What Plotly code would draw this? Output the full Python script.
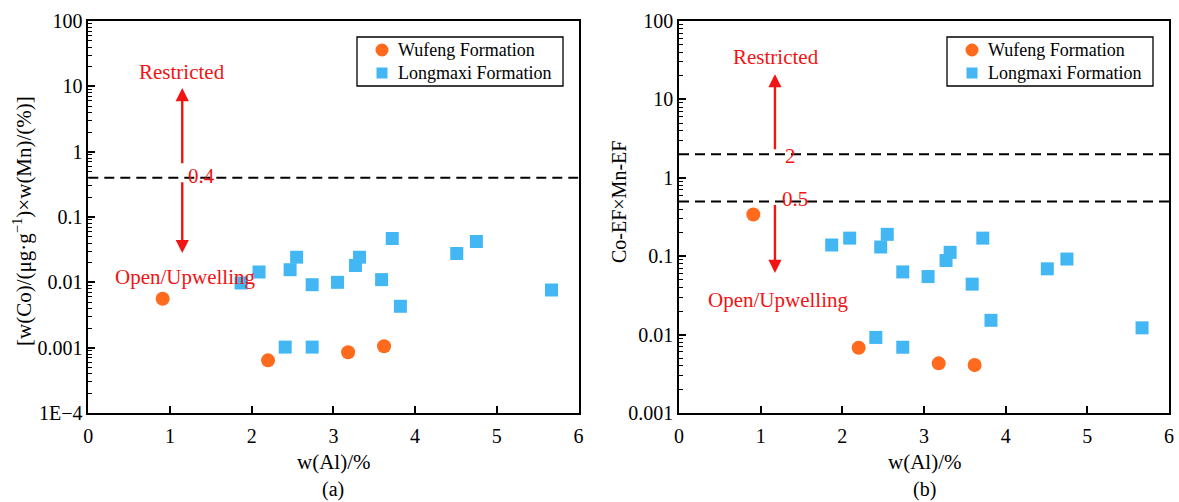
import math
import plotly.graph_objects as go

# Al content shared by both panels
wufeng_al = [0.91, 2.20, 3.18, 3.62]
longmaxi_al = [1.87, 2.09, 2.47, 2.55, 2.74, 3.05, 3.27, 3.32, 3.59, 3.72,
               3.82, 4.51, 4.75, 5.67, 2.41, 2.74]

# (a) w(Co) x w(Mn)
wufeng_comn = [0.0056, 0.00064, 0.00085, 0.00105]
longmaxi_comn = [0.0098, 0.0144, 0.0156, 0.0243, 0.0092, 0.0100, 0.0181, 0.0243,
                 0.0110, 0.047, 0.0043, 0.0276, 0.042, 0.0076, 0.00102, 0.00102]

# (b) Co-EF x Mn-EF
wufeng_ef = [0.34, 0.0068, 0.0043, 0.0041]
longmaxi_ef = [0.139, 0.17, 0.131, 0.19, 0.063, 0.055, 0.088, 0.112, 0.044, 0.17,
               0.0152, 0.069, 0.092, 0.0122, 0.0092, 0.0069]

# thresholds
thr_a = [0.4]
thr_b = [2, 0.5]

ticks_a_vals = [1e-4, 1e-3, 1e-2, 0.1, 1, 10, 100]
ticks_a_text = ["1E\u22124", "0.001", "0.01", "0.1", "1", "10", "100"]
ticks_b_vals = [1e-3, 1e-2, 0.1, 1, 10, 100]
ticks_b_text = ["0.001", "0.01", "0.1", "1", "10", "100"]

series_names = ["Wufeng Formation", "Longmaxi Formation"]

FONT = "Liberation Serif, Times New Roman, Times, serif"
ORANGE = "#FF6A1C"
BLUE = "#42B7F3"
RED = "#F01414"

W, H = 1179, 502


def px_x(p):
    return p / W


def px_y(p):
    return 1 - p / H


fig = go.Figure()

# scatter points
fig.add_trace(go.Scatter(x=wufeng_al, y=wufeng_comn, mode="markers", name=series_names[0],
                         marker=dict(symbol="circle", size=14, color=ORANGE),
                         xaxis="x", yaxis="y", showlegend=False))
fig.add_trace(go.Scatter(x=longmaxi_al, y=longmaxi_comn, mode="markers", name=series_names[1],
                         marker=dict(symbol="square", size=13, color=BLUE),
                         xaxis="x", yaxis="y", showlegend=False))
fig.add_trace(go.Scatter(x=wufeng_al, y=wufeng_ef, mode="markers", name=series_names[0],
                         marker=dict(symbol="circle", size=14, color=ORANGE),
                         xaxis="x2", yaxis="y2", showlegend=False))
fig.add_trace(go.Scatter(x=longmaxi_al, y=longmaxi_ef, mode="markers", name=series_names[1],
                         marker=dict(symbol="square", size=13, color=BLUE),
                         xaxis="x2", yaxis="y2", showlegend=False))

# dashed threshold lines
for v in thr_a:
    fig.add_trace(go.Scatter(x=[0, 6], y=[v, v], mode="lines", showlegend=False,
                             line=dict(color="black", width=2, dash="10px,6px"),
                             xaxis="x", yaxis="y", hoverinfo="skip"))
for v in thr_b:
    fig.add_trace(go.Scatter(x=[0, 6], y=[v, v], mode="lines", showlegend=False,
                             line=dict(color="black", width=2, dash="10px,6px"),
                             xaxis="x2", yaxis="y2", hoverinfo="skip"))

annotations = []
shapes = []


def arrow(xr, yr, x, y_from, y_to):
    annotations.append(dict(
        x=x, y=math.log10(y_to), ax=x, ay=math.log10(y_from),
        xref=xr, yref=yr, axref=xr, ayref=yr, text="", showarrow=True,
        arrowhead=2, arrowsize=1.1, arrowwidth=2.4, arrowcolor=RED))


def label(xr, yr, x, y, text, anchor="center", yshift=0):
    annotations.append(dict(
        x=x, y=math.log10(y), xref=xr, yref=yr, text=text, showarrow=False,
        xanchor=anchor, yanchor="middle", yshift=yshift,
        font=dict(family=FONT, size=21, color=RED)))


# panel (a) arrows and labels
arrow("x", "y", 1.15, 0.63, 9.4)
arrow("x", "y", 1.15, 0.36, 0.028)
label("x", "y", 1.15, 16.6, "Restricted")
label("x", "y", 1.18, 0.0121, "Open/Upwelling")
label("x", "y", 1.19, thr_a[0], "0.4", anchor="left", yshift=2)

# panel (b) arrows and labels
arrow("x2", "y2", 1.175, 2.22, 21)
arrow("x2", "y2", 1.175, 0.47, 0.061)
label("x2", "y2", 1.19, 35, "Restricted")
label("x2", "y2", 1.21, 0.0276, "Open/Upwelling")
label("x2", "y2", 1.27, thr_b[0], "2", anchor="left", yshift=-2)
label("x2", "y2", 1.24, thr_b[1], "0.5", anchor="left", yshift=2)

black = dict(family=FONT, size=21, color="black")
tickfont = dict(family=FONT, size=20, color="black")

# axis titles and panel tags
for cx, tag in [((88.3 + 578.5) / 2, "(a)"), ((679 + 1169) / 2, "(b)")]:
    annotations.append(dict(x=px_x(cx), y=px_y(462), xref="paper", yref="paper",
                            text="w(Al)/%", showarrow=False, xanchor="center",
                            yanchor="middle", font=black))
    annotations.append(dict(x=px_x(cx), y=px_y(489), xref="paper", yref="paper",
                            text=tag, showarrow=False, xanchor="center",
                            yanchor="middle", font=dict(family=FONT, size=20, color="black")))

annotations.append(dict(x=px_x(22), y=px_y(221), xref="paper", yref="paper",
                        text="[w(Co)/(\u03bcg\u00b7g<sup>\u22121</sup>)\u00d7w(Mn)/(%)]",
                        textangle=-90, showarrow=False, xanchor="center",
                        yanchor="middle", font=black))
annotations.append(dict(x=px_x(619), y=px_y(202), xref="paper", yref="paper",
                        text="Co-EF\u00d7Mn-EF", textangle=-90, showarrow=False,
                        xanchor="center", yanchor="middle",
                        font=dict(family=FONT, size=20, color="black")))


# boxed key in the upper right corner of each panel
def key(left, top):
    width, height = 206, 49
    shapes.append(dict(type="rect", xref="paper", yref="paper",
                       x0=px_x(left), x1=px_x(left + width),
                       y0=px_y(top + height), y1=px_y(top),
                       line=dict(color="black", width=1.3), fillcolor="white"))
    rows = [top + 13, top + 36]
    cx = left + 25
    r = 6.5
    shapes.append(dict(type="circle", xref="paper", yref="paper",
                       x0=px_x(cx - r), x1=px_x(cx + r),
                       y0=px_y(rows[0] + r), y1=px_y(rows[0] - r),
                       line=dict(width=0), fillcolor=ORANGE))
    s = 5.5
    shapes.append(dict(type="rect", xref="paper", yref="paper",
                       x0=px_x(cx - s), x1=px_x(cx + s),
                       y0=px_y(rows[1] + s), y1=px_y(rows[1] - s),
                       line=dict(width=0), fillcolor=BLUE))
    for name, ry in zip(series_names, rows):
        annotations.append(dict(x=px_x(left + 39), y=px_y(ry), xref="paper", yref="paper",
                                text=name, showarrow=False, xanchor="left",
                                yanchor="middle",
                                font=dict(family=FONT, size=18, color="black")))


key(357, 37)
key(947, 37)


def minor_vals(lo, hi):
    vals = []
    for e in range(lo, hi):
        for m in range(2, 10):
            vals.append(m * 10 ** e)
    return vals


xcommon = dict(range=[0, 6], tickmode="array", tickvals=[0, 1, 2, 3, 4, 5, 6],
               ticks="inside", ticklen=7, tickwidth=1.5, tickcolor="black",
               showline=True, linecolor="black", linewidth=1.5, mirror=True,
               showgrid=False, zeroline=False, tickfont=tickfont, automargin=False,
               ticklabelstandoff=4)
ycommon = dict(type="log", tickmode="array", ticks="inside", ticklen=7, tickwidth=1.5,
               tickcolor="black", showline=True, linecolor="black", linewidth=1.5,
               mirror=True, showgrid=False, zeroline=False, tickfont=tickfont,
               automargin=False)

ydom = [px_y(413), px_y(21)]

fig.update_layout(
    width=W, height=H,
    margin=dict(l=0, r=0, t=0, b=0),
    paper_bgcolor="white", plot_bgcolor="white",
    font=dict(family=FONT, color="black"),
    xaxis=dict(domain=[px_x(88.3), px_x(578.5)], anchor="y", **xcommon),
    yaxis=dict(domain=ydom, anchor="x", range=[-4, 2], tickvals=ticks_a_vals,
               ticktext=ticks_a_text,
               minor=dict(tickmode="array", tickvals=minor_vals(-4, 2), ticks="inside",
                          ticklen=4, tickwidth=1, tickcolor="black", showgrid=False),
               **ycommon),
    xaxis2=dict(domain=[px_x(679), px_x(1169)], anchor="y2", **xcommon),
    yaxis2=dict(domain=ydom, anchor="x2", range=[-3, 2], tickvals=ticks_b_vals,
                ticktext=ticks_b_text,
                minor=dict(tickmode="array", tickvals=minor_vals(-3, 2), ticks="inside",
                           ticklen=4, tickwidth=1, tickcolor="black", showgrid=False),
                **ycommon),
    shapes=shapes,
    annotations=annotations,
    showlegend=False,
)

fig.write_html("out.html")
